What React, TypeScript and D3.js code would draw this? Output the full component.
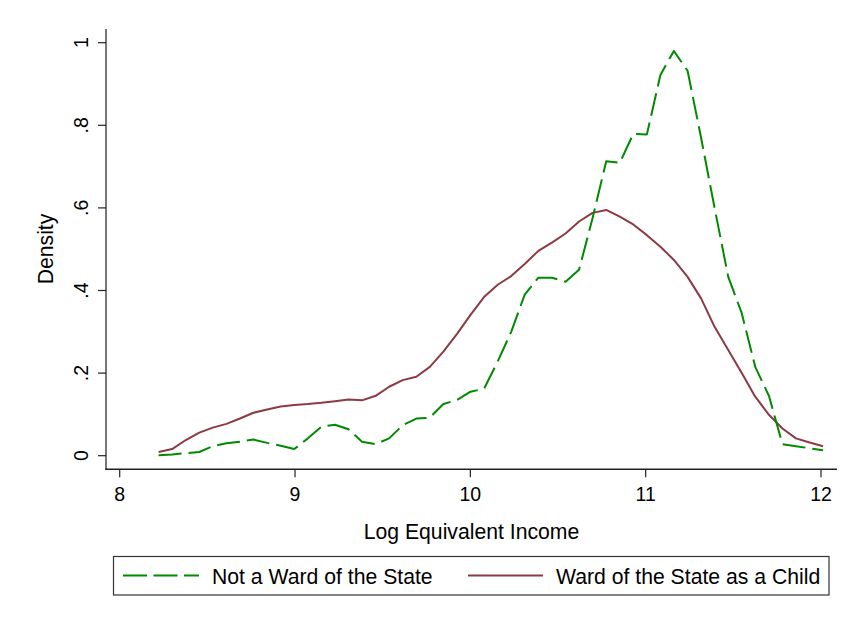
import React from "react";
import * as d3 from "d3";

const incomeGrid = [
  8.222, 8.299, 8.377, 8.454, 8.531, 8.609, 8.686, 8.763, 8.841, 8.918,
  8.996, 9.073, 9.150, 9.228, 9.305, 9.382, 9.460, 9.537, 9.614, 9.692,
  9.769, 9.846, 9.924, 10.001, 10.078, 10.156, 10.233, 10.310, 10.388, 10.465,
  10.543, 10.620, 10.697, 10.775, 10.852, 10.929, 11.007, 11.084, 11.161, 11.239,
  11.316, 11.393, 11.471, 11.548, 11.625, 11.703, 11.780, 11.857, 11.935, 12.012,
];

const notWardDensity = [
  0.001, 0.003, 0.006, 0.009, 0.023, 0.030, 0.034, 0.039, 0.031, 0.024,
  0.016, 0.042, 0.070, 0.075, 0.064, 0.034, 0.028, 0.042, 0.074, 0.090,
  0.092, 0.125, 0.135, 0.155, 0.162, 0.228, 0.300, 0.390, 0.431, 0.431,
  0.421, 0.450, 0.575, 0.713, 0.709, 0.779, 0.778, 0.922, 0.980, 0.932,
  0.770, 0.600, 0.433, 0.345, 0.215, 0.145, 0.028, 0.023, 0.018, 0.013,
];

const wardDensity = [
  0.009, 0.016, 0.038, 0.056, 0.068, 0.077, 0.090, 0.104, 0.112, 0.119,
  0.123, 0.125, 0.128, 0.132, 0.136, 0.134, 0.145, 0.167, 0.183, 0.191,
  0.215, 0.252, 0.295, 0.341, 0.384, 0.414, 0.435, 0.464, 0.496, 0.516,
  0.538, 0.567, 0.588, 0.595, 0.579, 0.560, 0.534, 0.506, 0.474, 0.433,
  0.381, 0.312, 0.256, 0.200, 0.143, 0.099, 0.066, 0.042, 0.032, 0.023,
];

const xTicks = [8, 9, 10, 11, 12];
const xTickLabels = ["8", "9", "10", "11", "12"];
const yTicks = [0, 0.2, 0.4, 0.6, 0.8, 1];
const yTickLabels = ["0", ".2", ".4", ".6", ".8", "1"];

const seriesNames = ["Not a Ward of the State", "Ward of the State as a Child"];
const xTitle = "Log Equivalent Income";
const yTitle = "Density";

const GREEN = "#008a00";
const RED = "#8c3a44";
const FONT = "'Liberation Sans', Arial, Helvetica, sans-serif";

export default function App() {
  const W = 846;
  const H = 618;
  const x = d3.scaleLinear().domain([8, 12]).range([119.7, 821]);
  const y = d3.scaleLinear().domain([0, 1]).range([455.7, 42.7]);

  const axisLeft = 106;
  const axisBottom = 469.3;
  const axisTop = 29;
  const axisRight = 837;

  const line = d3
    .line<number>()
    .x((_, i) => x(incomeGrid[i]))
    .y((d) => y(d));

  const greenPath = line(notWardDensity) || "";
  const redPath = line(wardDensity) || "";

  return (
    <svg
      width={W}
      height={H}
      viewBox={`0 0 ${W} ${H}`}
      style={{ position: "absolute", left: 0, top: 0, background: "#fff" }}
    >
      <rect x={0} y={0} width={W} height={H} fill="#fff" />

      {/* axes */}
      <line x1={axisLeft} x2={axisLeft} y1={axisTop} y2={axisBottom + 0.7} stroke="#555" strokeWidth={1.6} />
      <line x1={axisLeft - 0.7} x2={axisRight} y1={axisBottom} y2={axisBottom} stroke="#222" strokeWidth={1.6} />

      {/* y ticks */}
      {yTicks.map((t, i) => (
        <g key={"yt" + i}>
          <line x1={axisLeft - 8} x2={axisLeft} y1={y(t)} y2={y(t)} stroke="#222" strokeWidth={1.2} />
          <text
            transform={`translate(88,${y(t)}) rotate(-90)`}
            textAnchor="middle"
            fontFamily={FONT}
            fontSize={19.5}
            fill="#000"
          >
            {yTickLabels[i]}
          </text>
        </g>
      ))}

      {/* x ticks */}
      {xTicks.map((t, i) => (
        <g key={"xt" + i}>
          <line x1={x(t)} x2={x(t)} y1={axisBottom} y2={axisBottom + 8} stroke="#222" strokeWidth={1.2} />
          <text
            x={x(t)}
            y={501}
            textAnchor="middle"
            fontFamily={FONT}
            fontSize={19.5}
            fill="#000"
          >
            {xTickLabels[i]}
          </text>
        </g>
      ))}

      {/* axis titles */}
      <text x={471.5} y={539} textAnchor="middle" fontFamily={FONT} fontSize={21.2} fill="#000">
        {xTitle}
      </text>
      <text
        transform={`translate(53,249) rotate(-90)`}
        textAnchor="middle"
        fontFamily={FONT}
        fontSize={21.2}
        fill="#000"
      >
        {yTitle}
      </text>

      {/* series */}
      <path d={redPath} fill="none" stroke={RED} strokeWidth={2} strokeLinejoin="round" />
      <path d={greenPath} fill="none" stroke={GREEN} strokeWidth={2} strokeDasharray="23 7" strokeLinejoin="round" />

      {/* legend */}
      <rect x={113.5} y={556.5} width={715.5} height={38.5} fill="#fff" stroke="#333" strokeWidth={1.2} />
      <line x1={123} x2={199} y1={575.5} y2={575.5} stroke={GREEN} strokeWidth={2} strokeDasharray="24 6.5" />
      <text x={212} y={583.5} fontFamily={FONT} fontSize={21.2} fill="#000">
        {seriesNames[0]}
      </text>
      <line x1={468} x2={543} y1={575.5} y2={575.5} stroke={RED} strokeWidth={2} />
      <text x={556} y={583.5} fontFamily={FONT} fontSize={21.2} fill="#000">
        {seriesNames[1]}
      </text>
    </svg>
  );
}
